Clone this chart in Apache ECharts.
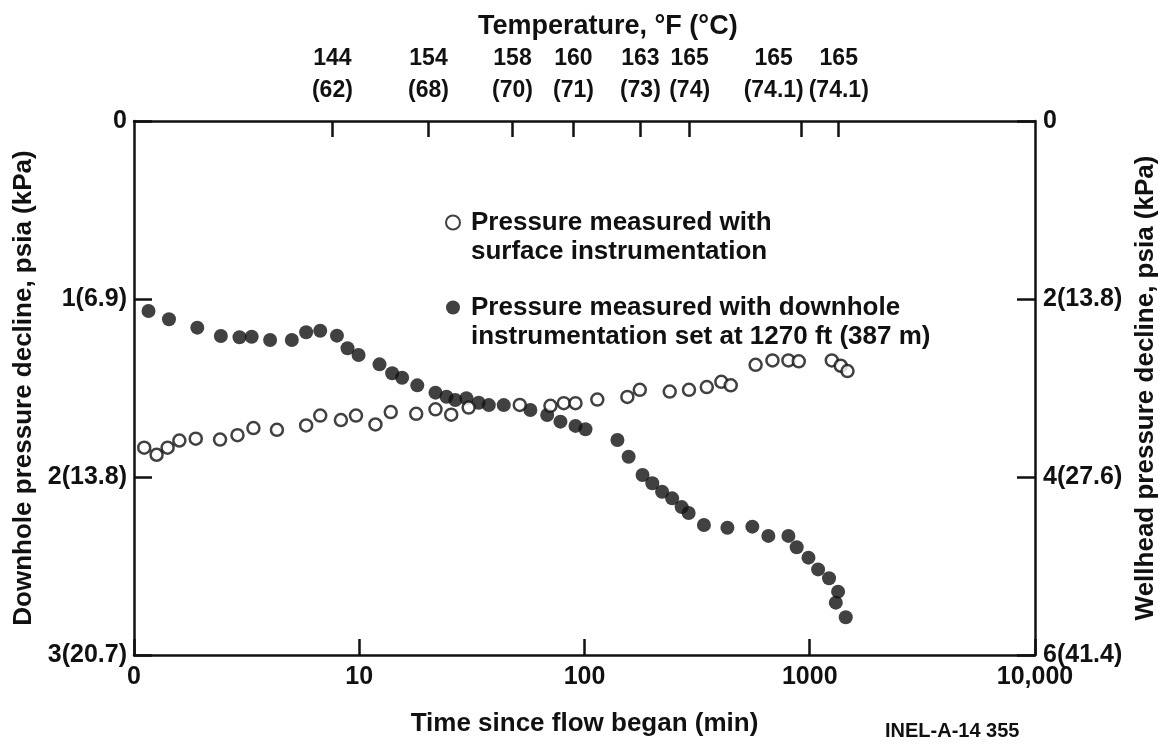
<!DOCTYPE html>
<html><head><meta charset="utf-8">
<script src="https://cdn.jsdelivr.net/npm/echarts@6/dist/echarts.min.js"></script>
<style>html,body{margin:0;padding:0;background:#fff}#c{width:1169px;height:744px}</style>
</head><body><div id="c"></div>
<script>
const FONT = '"Liberation Sans", Arial, Helvetica, sans-serif';
const INK = '#111';

// Downhole pressure decline (psia), filled circles, left axis
const downholeTime = [1.16,1.43,1.91,2.43,2.94,3.33,4.02,5.02,5.81,6.71,7.96,8.87,9.93,12.3,14.0,15.5,18.1,21.8,24.4,26.7,29.9,33.9,37.6,43.8,57.5,68.3,78.2,91.2,101,140,157,181,200,221,245,270,290,339,431,556,655,804,875,987,1089,1218,1336,1305,1445];
const downholePsi = [1.067,1.114,1.161,1.208,1.215,1.212,1.230,1.230,1.187,1.178,1.206,1.277,1.315,1.367,1.417,1.442,1.485,1.526,1.549,1.567,1.558,1.583,1.596,1.596,1.624,1.652,1.689,1.713,1.732,1.792,1.886,1.989,2.035,2.083,2.120,2.169,2.202,2.270,2.285,2.279,2.331,2.331,2.395,2.453,2.519,2.569,2.644,2.706,2.788];

// Wellhead (surface) pressure decline (psia), open circles, right axis
const surfaceTime = [1.11,1.26,1.41,1.59,1.88,2.41,2.88,3.39,4.31,5.81,6.71,8.29,9.67,11.8,13.8,17.9,21.8,25.6,30.6,51.6,70.6,80.9,91.2,114,155,176,239,291,349,405,446,575,683,804,894,1253,1373,1471];
const surfacePsi = [3.67,3.75,3.67,3.59,3.57,3.58,3.53,3.45,3.47,3.42,3.31,3.36,3.31,3.41,3.27,3.29,3.24,3.30,3.22,3.19,3.20,3.17,3.17,3.13,3.10,3.02,3.04,3.02,2.99,2.93,2.97,2.74,2.69,2.69,2.70,2.69,2.75,2.81];

// Temperature marks on top axis (time in min)
const tempTime = [7.6,20.3,47.9,89.3,177,293,921,1345];
const tempF = ['144','154','158','160','163','165','165','165'];
const tempC = ['(62)','(68)','(70)','(71)','(73)','(74)','(74.1)','(74.1)'];

const timeLabels = ['0','10','100','1000','10,000'];
const downholeLabels = ['0','1(6.9)','2(13.8)','3(20.7)'];
const wellheadLabels = ['0','2(13.8)','4(27.6)','6(41.4)'];

const surfaceName = 'Pressure measured with\nsurface instrumentation';
const downholeName = 'Pressure measured with downhole\ninstrumentation set at 1270 ft (387 m)';

// label of this temperature mark is set off to the left (crowded end of the axis)
const SHIFTED = 6;

const txt = {fontFamily: FONT, color: INK, fontWeight: 'bold'};
const axisLine = {show: true, onZero: false, lineStyle: {color: INK, width: 2.5}};
const tempPos = tempTime.map(t => Math.log10(t));

function nearestTemp(v) {
  let i = 0, best = Infinity;
  tempPos.forEach((p, k) => { const d = Math.abs(p - v); if (d < best) { best = d; i = k; } });
  return i;
}
const topLabel = (v) => { const i = nearestTemp(v); return '{c|' + tempF[i] + '}\n{c|' + tempC[i] + '}'; };
const topLabelStyle = (pad) => Object.assign({}, txt, {fontSize: 23, lineHeight: 32, margin: 14,
  hideOverlap: false, formatter: topLabel,
  rich: {c: Object.assign({}, txt, {fontSize: 23, lineHeight: 32, padding: pad})}});

const chart = echarts.init(document.getElementById('c'), null, {renderer: 'canvas'});
chart.setOption({
  backgroundColor: '#fff',
  animation: false,
  grid: {left: 134, right: 134, top: 121, bottom: 89, containLabel: false, outerBoundsMode: 'none'},
  title: [
    {text: 'Temperature, °F (°C)', left: 473, top: 8, textStyle: Object.assign({}, txt, {fontSize: 27})},
    {text: 'INEL-A-14 355', left: 880, top: 716, textStyle: Object.assign({}, txt, {fontSize: 20})}
  ],
  legend: {
    left: 440, top: 174, orient: 'vertical', itemGap: -2,
    itemWidth: 14, itemHeight: 14,
    data: [surfaceName, downholeName],
    formatter: n => '\n' + n,
    textStyle: Object.assign({}, txt, {fontSize: 26, lineHeight: 29, padding: [0, 0, 0, 6]})
  },
  xAxis: [
    {
      type: 'log', logBase: 10, min: 1, max: 10000, position: 'bottom',
      axisLine: axisLine,
      axisTick: {show: true, inside: true, length: 16, lineStyle: {color: INK, width: 2.5}},
      minorTick: {show: false}, splitLine: {show: false}, minorSplitLine: {show: false},
      axisLabel: Object.assign({}, txt, {fontSize: 25, margin: 10,
        formatter: v => timeLabels[Math.round(Math.log10(v))]}),
      name: 'Time since flow began (min)', nameLocation: 'middle', nameGap: 56,
      nameTextStyle: Object.assign({}, txt, {fontSize: 26})
    },
    {
      type: 'value', min: 0, max: 4, position: 'top',
      axisLine: axisLine, splitLine: {show: false},
      axisTick: {show: true, inside: true, length: 16, lineStyle: {color: INK, width: 2.5},
        customValues: tempPos},
      axisLabel: Object.assign(topLabelStyle([0, 0, 0, 0]), {
        customValues: tempPos.filter((p, i) => i !== SHIFTED)})
    },
    {
      type: 'value', min: 0, max: 4, position: 'top',
      axisLine: {show: false}, splitLine: {show: false}, axisTick: {show: false},
      axisLabel: Object.assign(topLabelStyle([0, 56, 0, 0]), {
        customValues: [tempPos[SHIFTED]]})
    }
  ],
  yAxis: [
    {
      type: 'value', min: 0, max: 3, interval: 1, inverse: true, position: 'left',
      axisLine: axisLine, splitLine: {show: false},
      axisTick: {show: true, inside: true, length: 18, lineStyle: {color: INK, width: 2.5}},
      axisLabel: Object.assign({}, txt, {fontSize: 25, margin: 7, formatter: (v) => downholeLabels[Math.round(v)]}),
      name: 'Downhole pressure decline, psia (kPa)', nameLocation: 'middle', nameGap: 88, nameRotate: 90,
      nameTextStyle: Object.assign({}, txt, {fontSize: 26})
    },
    {
      type: 'value', min: 0, max: 6, interval: 2, inverse: true, position: 'right',
      axisLine: axisLine, splitLine: {show: false},
      axisTick: {show: true, inside: true, length: 18, lineStyle: {color: INK, width: 2.5}},
      axisLabel: Object.assign({}, txt, {fontSize: 25, margin: 8, formatter: (v) => wellheadLabels[Math.round(v / 2)]}),
      name: 'Wellhead pressure decline, psia (kPa)', nameLocation: 'middle', nameGap: 98, nameRotate: 90,
      nameTextStyle: Object.assign({}, txt, {fontSize: 26})
    }
  ],
  series: [
    {
      name: downholeName, type: 'scatter', xAxisIndex: 0, yAxisIndex: 0,
      symbol: 'circle', symbolSize: 14,
      itemStyle: {color: INK},
      data: downholeTime.map((t, i) => [t, downholePsi[i]]),
      z: 2
    },
    {
      name: surfaceName, type: 'scatter', xAxisIndex: 0, yAxisIndex: 1,
      symbol: 'circle', symbolSize: 12,
      itemStyle: {color: '#fff', borderColor: INK, borderWidth: 2.5},
      data: surfaceTime.map((t, i) => [t, surfacePsi[i]]),
      z: 3
    }
  ]
});
</script>
</body></html>
